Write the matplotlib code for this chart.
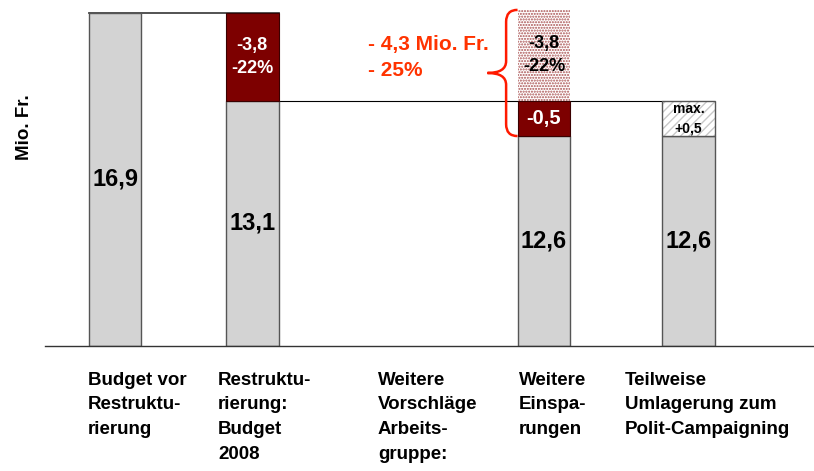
import numpy as np
import matplotlib
matplotlib.use('Agg')
import matplotlib.pyplot as plt
from matplotlib.path import Path
from matplotlib.patches import PathPatch

plt.rcParams['font.family'] = ['Liberation Sans', 'DejaVu Sans']

# Kategorien (x-Achse)
categories = [
    'Budget vor\nRestruktu-\nrierung',
    'Restruktu-\nrierung:\nBudget\n2008',
    'Weitere\nVorschläge\nArbeits-\ngruppe:',
    'Weitere\nEinspa-\nrungen',
    'Teilweise\nUmlagerung zum\nPolit-Campaigning',
]

# Segmenthöhen wie im Bild gezeichnet (Mio. Fr., Grafik nicht massstabsgetreu)
base_vals = [16.9, 12.45, 0.0, 10.65, 10.65]
cut_vals = [0.0, 4.45, 0.0, 1.8, 0.0]
proposal_vals = [0.0, 0.0, 0.0, 4.6, 0.0]
shift_vals = [0.0, 0.0, 0.0, 0.0, 1.8]

# Beschriftungen
base_labels = ['16,9', '13,1', '', '12,6', '12,6']
cut_labels = ['', '-3,8\n-22%', '', '-0,5', '']
proposal_labels = ['', '', '', '-3,8\n-22%', '']
shift_labels = ['', '', '', '', 'max.\n+0,5']
total_label = '- 4,3 Mio. Fr.\n- 25%'

GRAY = '#d3d3d3'
EDGE = '#555555'
DARKRED = '#7d0000'
ORANGE = '#ff3300'

x = np.array([0, 0.96, 2, 3, 4.01])
w = 0.37

fig = plt.figure(figsize=(8.14, 4.71), dpi=100)
ax = fig.add_axes([45 / 814, 125 / 471, 1 - 45 / 814, 343 / 471])
ax.set_xlim(-0.4895, 4.888)
ax.set_ylim(0, 17.4)

base = np.array(base_vals)
cut = np.array(cut_vals)
prop = np.array(proposal_vals)
shift = np.array(shift_vals)

# Verbindungslinien
ax.plot([x[0] - w / 2, x[1] + w / 2], [base[0], base[0]], color='#444444', lw=1.3, zorder=1)
lvl = base[1]
ax.plot([x[1] + w / 2, x[4] - w / 2], [lvl, lvl], color='black', lw=0.8, zorder=1)

has = base > 0
ax.bar(x[has], base[has], width=w, color=GRAY, edgecolor=EDGE, lw=1.0, zorder=2)

m = cut > 0
ax.bar(x[m], cut[m], width=w, bottom=base[m], color=DARKRED, edgecolor='#3a0000', lw=0.8, zorder=3)

m = prop > 0
bot = base + cut
ax.bar(x[m], prop[m], width=w, bottom=bot[m], color='white', edgecolor='#a85050',
       hatch='......', lw=0, zorder=2)

m = shift > 0
ax.bar(x[m], shift[m], width=w, bottom=base[m], color='white', edgecolor='#c8c8c8',
       hatch='////', lw=0, zorder=3)
ax.bar(x[m], shift[m], width=w, bottom=base[m], color='none', edgecolor=EDGE, lw=1.0, zorder=3)

# Werte
for i in range(len(x)):
    if base_labels[i]:
        ax.text(x[i], base[i] / 2, base_labels[i], ha='center', va='center',
                fontsize=17, fontweight='bold', zorder=5)
    if cut_labels[i]:
        fs = 13 if '\n' in cut_labels[i] else 14.5
        ax.text(x[i], base[i] + cut[i] / 2, cut_labels[i], ha='center', va='center',
                fontsize=fs, fontweight='bold', color='white', linespacing=1.45, zorder=5)
    if proposal_labels[i]:
        ax.text(x[i], bot[i] + prop[i] / 2, proposal_labels[i], ha='center', va='center',
                fontsize=13, fontweight='semibold', color='black', linespacing=1.45, zorder=5)
    if shift_labels[i]:
        ax.text(x[i], base[i] + shift[i] / 2, shift_labels[i], ha='center', va='center',
                fontsize=10, fontweight='bold', linespacing=1.5, zorder=5)

# geschweifte Klammer links von Balken 4
y_top = bot[3] + prop[3]
y_bot = base[3]
y_mid = (y_top + y_bot) / 2
xe = x[3] - w / 2
xm = xe - 0.08
xt = xe - 0.21
r = 0.6
verts = [
    (xe, y_top), (xm, y_top), (xm, y_top - r), (xm, y_top - r),
    (xm, y_mid + r), (xm, y_mid), (xt, y_mid),
    (xm, y_mid), (xm, y_mid - r), (xm, y_mid - r),
    (xm, y_bot + r), (xm, y_bot), (xe, y_bot),
]
codes = [Path.MOVETO, Path.CURVE3, Path.CURVE3, Path.LINETO,
         Path.LINETO, Path.CURVE3, Path.CURVE3,
         Path.CURVE3, Path.CURVE3, Path.LINETO,
         Path.LINETO, Path.CURVE3, Path.CURVE3]
ax.add_patch(PathPatch(Path(verts, codes), fill=False, edgecolor='#ff1a00', lw=1.8, zorder=6))

ax.text(1.77, 14.65, total_label, ha='left', va='center', fontsize=15, fontweight='bold',
        color=ORANGE, linespacing=1.45)

# Kategorienbeschriftung
label_x = [-0.189, 0.72, 1.839, 2.825, 3.566]
for lx, lab in zip(label_x, categories):
    ax.text(lx, -1.3, lab, ha='left', va='top', fontsize=13.5, fontweight='bold',
            linespacing=1.6, clip_on=False)

ax.text(-0.4895 - 20 / 143, 11.1, 'Mio. Fr.', rotation=90, ha='center', va='center',
        fontsize=13.5, fontweight='bold')

for s in ['top', 'right', 'left']:
    ax.spines[s].set_visible(False)
ax.spines['bottom'].set_color('#333333')
ax.spines['bottom'].set_linewidth(1.0)
ax.set_xticks([])
ax.set_yticks([])

fig.savefig('out.png', dpi=100)
